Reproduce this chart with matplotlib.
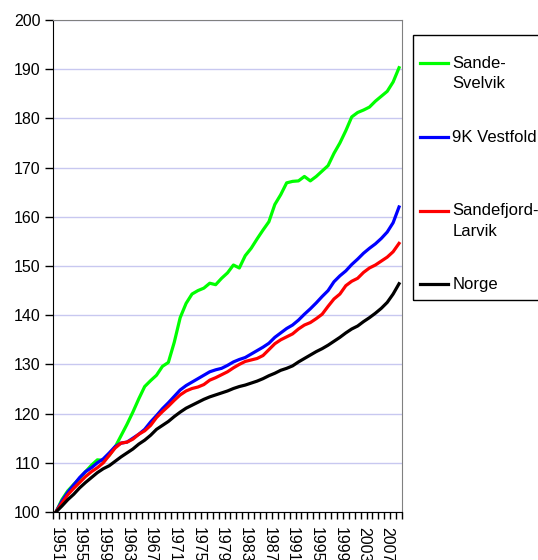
import numpy as np
import matplotlib
matplotlib.use('Agg')
import matplotlib.pyplot as plt
from matplotlib.lines import Line2D
from matplotlib.patches import Rectangle

plt.rcParams['font.family'] = ['Liberation Sans', 'DejaVu Sans']

# --- Data (index, 1951 = 100) ---
years = list(range(1951, 2010))

sande_svelvik = [
    100, 102.5, 104.3, 105.6, 106.8, 108.2, 109.5, 110.6, 110.5, 111.5,
    113.2, 115.5, 117.8, 120.3, 123.0, 125.5, 126.7, 127.8, 129.6, 130.4,
    134.5, 139.5, 142.4, 144.3, 145.0, 145.5, 146.5, 146.2, 147.5, 148.6,
    150.2, 149.6, 152.1, 153.6, 155.5, 157.3, 159.0, 162.5, 164.5, 166.9,
    167.2, 167.3, 168.2, 167.3, 168.2, 169.3, 170.4, 172.9, 175.0, 177.5,
    180.3, 181.2, 181.7, 182.3, 183.5, 184.5, 185.5, 187.4, 190.3]

vestfold_9k = [
    100, 102.2, 104.0, 105.5, 107.0, 108.2, 109.0, 110.0, 110.8, 112.0,
    113.3, 114.0, 114.2, 115.0, 115.8, 116.8, 118.3, 119.6, 121.0, 122.2,
    123.5, 124.8, 125.7, 126.4, 127.1, 127.8, 128.5, 128.9, 129.2, 129.8,
    130.5, 131.0, 131.4, 132.1, 132.8, 133.5, 134.3, 135.5, 136.4, 137.3,
    138.0, 139.0, 140.2, 141.3, 142.5, 143.8, 145.0, 146.8, 148.0, 149.0,
    150.3, 151.4, 152.6, 153.6, 154.5, 155.6, 156.9, 158.8, 162.0]

sandefjord_larvik = [
    100, 101.8, 103.5, 104.8, 106.0, 107.2, 108.2, 109.0, 110.0, 111.5,
    113.0, 114.0, 114.2, 114.8, 115.8, 116.5, 117.6, 119.2, 120.4, 121.5,
    122.7, 123.8, 124.6, 125.1, 125.4, 125.9, 126.8, 127.3, 127.9, 128.5,
    129.3, 130.0, 130.6, 130.9, 131.2, 131.8, 133.0, 134.2, 135.0, 135.6,
    136.2, 137.2, 138.0, 138.5, 139.3, 140.2, 141.8, 143.3, 144.3, 146.0,
    146.9, 147.5, 148.7, 149.6, 150.2, 151.0, 151.8, 152.9, 154.6]

norge = [
    100, 101.2, 102.5, 103.6, 104.9, 106.0, 107.0, 108.0, 108.8, 109.4,
    110.3, 111.2, 112.0, 112.8, 113.8, 114.6, 115.6, 116.8, 117.6, 118.4,
    119.4, 120.3, 121.1, 121.7, 122.3, 122.9, 123.4, 123.8, 124.2, 124.6,
    125.1, 125.5, 125.8, 126.2, 126.6, 127.1, 127.7, 128.2, 128.8, 129.2,
    129.7, 130.5, 131.2, 131.9, 132.6, 133.2, 133.9, 134.7, 135.5, 136.4,
    137.2, 137.8, 138.7, 139.5, 140.4, 141.4, 142.6, 144.3, 146.4]

series_labels = ['Sande-\nSvelvik', '9K Vestfold', 'Sandefjord-\nLarvik', 'Norge']
series_colors = ['#00FF00', '#0000FF', '#FF0000', '#000000']
series_data = [sande_svelvik, vestfold_9k, sandefjord_larvik, norge]

# --- Figure ---
W, H, dpi = 538, 560, 100
fig = plt.figure(figsize=(W / dpi, H / dpi), dpi=dpi)
ax = fig.add_axes([53 / W, (H - 512) / H, 349 / W, 492 / H])

x = np.arange(len(years))
for vals, col in zip(series_data, series_colors):
    ax.plot(x, vals, color=col, lw=2.3, solid_joinstyle='round', zorder=3)

ax.set_xlim(-0.5, len(years) - 0.5)
ax.set_ylim(100, 200)
ax.set_yticks(range(100, 201, 10))
ax.yaxis.grid(True, color='#C8C8F0', lw=1)
ax.set_axisbelow(True)
ax.tick_params(axis='y', length=6, width=1, pad=3, labelsize=11.5, direction='out')

# tick marks between categories, labels every 4 years
ax.set_xticks(np.arange(-0.5, len(years)), minor=False)
ax.set_xticklabels([])
ax.tick_params(axis='x', which='major', length=5, width=1, direction='out')
ax.set_xticks(x[::4], minor=True)
ax.set_xticklabels([str(y) for y in years[::4]], minor=True, rotation=-90, fontsize=11.5)
ax.tick_params(axis='x', which='minor', length=0, pad=11)

for s in ['top', 'right']:
    ax.spines[s].set_color('#808080')
for s in ['left', 'bottom']:
    ax.spines[s].set_color('black')

# --- Legend box (drawn by hand, cut off at right edge like the original) ---
fig.patches.append(Rectangle((413 / W, 1 - 300 / H), 140 / W, 265 / H,
                             transform=fig.transFigure, fill=False,
                             edgecolor='black', lw=1))
legend_y = [63, 137, 211, 284]
for lab, col, ly in zip(series_labels, series_colors, legend_y):
    yf = 1 - ly / H
    fig.lines.append(Line2D([420 / W, 448 / W], [yf, yf], transform=fig.transFigure,
                            color=col, lw=2.3))
    for i, part in enumerate(lab.split('\n')):
        fig.text(452.5 / W, 1 - (ly + i * 20.5) / H, part, fontsize=12,
                 va='center', ha='left')

fig.savefig('out.png', dpi=dpi)
